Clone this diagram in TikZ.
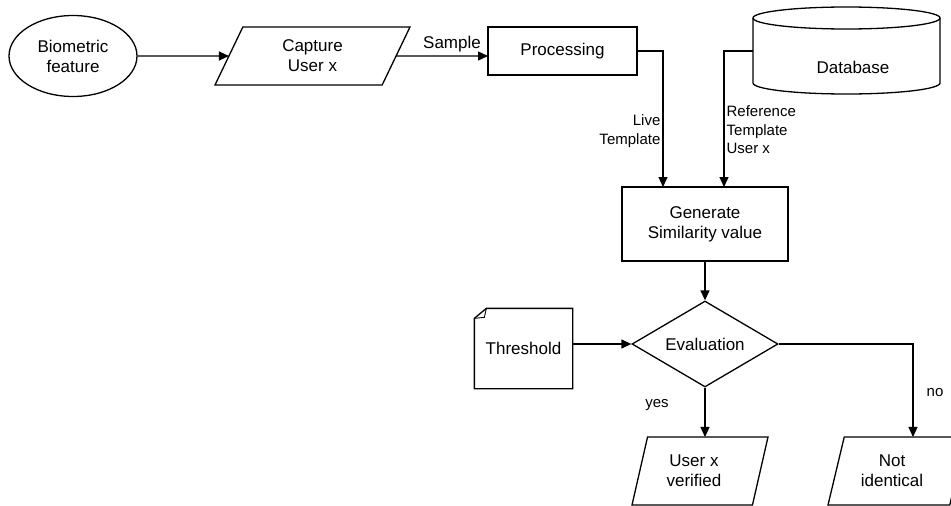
\documentclass[tikz,border=0pt]{standalone}
\usepackage{fontspec}
\setmainfont{Liberation Sans}
\usetikzlibrary{shapes.geometric,arrows.meta}
\begin{document}
\begin{tikzpicture}[x=1pt,y=-1pt,
  line width=1.3pt,
  nodefont/.style={font=\fontsize{17}{20}\selectfont, align=center},
  lblfont/.style={font=\fontsize{15}{18.5}\selectfont, inner sep=1pt},
  arr/.style={-{Triangle[length=10pt,width=9pt]}, line width=1.3pt},
  box/.style={draw, rectangle, nodefont, inner sep=0pt, outer sep=0pt},
  para/.style={draw, trapezium, trapezium stretches body, nodefont, inner sep=0pt, outer sep=0pt},
]
\useasboundingbox (0,0) rectangle (951,506);

% nodes
\node[draw, ellipse, nodefont, minimum width=128pt, minimum height=81pt, inner sep=0pt] (bio) at (73,56) {Biometric\\feature};
\node[para, trapezium left angle=49, trapezium right angle=131, minimum width=195pt, minimum height=58pt] (cap) at (312.5,56) {Capture\\User x};
\node[box, minimum width=149pt, minimum height=48pt] (proc) at (562.5,51) {Processing};

% database cylinder
\draw (846.5,18) ellipse [x radius=93.5, y radius=11];
\draw (753,18) -- (753,83) arc[start angle=180, end angle=0, x radius=93.5, y radius=11] -- (940,18);
\node[nodefont] (dbtext) at (853,67) {Database};
\coordinate (dbL) at (753,51);

\node[box, minimum width=166pt, minimum height=74pt] (gen) at (705,224) {Generate\\Similarity value};
\node[draw, diamond, nodefont, aspect=1.7, minimum width=146pt, minimum height=86pt, inner sep=0pt] (eval) at (705,344) {Evaluation};

% threshold (note with folded corner)
\node[nodefont, minimum width=97pt, minimum height=79pt, inner sep=0pt] (thr) at (523.5,348.5) {\raisebox{-4.5pt}{Threshold}};
\draw (thr.south west) -- (thr.south east) -- (thr.north east) -- ([xshift=12pt]thr.north west) -- ([yshift=-10pt]thr.north west) -- cycle;
\draw[line width=0.9pt] ([yshift=-10pt]thr.north west) -- ([xshift=10pt,yshift=-9pt]thr.north west) -- ([xshift=12pt]thr.north west);

\node[para, trapezium left angle=64, trapezium right angle=116, minimum width=136pt, minimum height=68pt] (ver) at (700,471) {\hspace*{-12pt}User x\\\hspace*{-12pt}verified};
\node[para, trapezium left angle=63, trapezium right angle=117, minimum width=138pt, minimum height=68pt] (nid) at (897,471) {\hspace*{-10pt}Not\\\hspace*{-10pt}identical};

% connectors
\draw[arr] (bio) -- (cap);
\draw[arr] (cap) -- (cap -| proc.west);
\draw[arr] (proc.east) -| ([xshift=-42pt]gen.north);
\draw[arr] (dbL) -| ([xshift=19pt]gen.north);
\draw[arr] (gen) -- (eval);
\draw[arr] (thr.east |- eval) -- (eval.west);
\draw[arr] (eval.south) -- (eval.south |- ver.north);
\draw[arr] (eval.east) -| ([xshift=16pt]nid.north);

% labels
\node[nodefont] (lsample) at (452,44) {Sample};
\node[lblfont, anchor=east, align=right] (llive) at (662,131) {Live\\Template};
\node[lblfont, anchor=west, align=left] (lref) at (725,130) {Reference\\Template\\User x};
\node[lblfont] (lyes) at (657,405) {yes};
\node[lblfont] (lno) at (935,393) {no};
\end{tikzpicture}
\end{document}
